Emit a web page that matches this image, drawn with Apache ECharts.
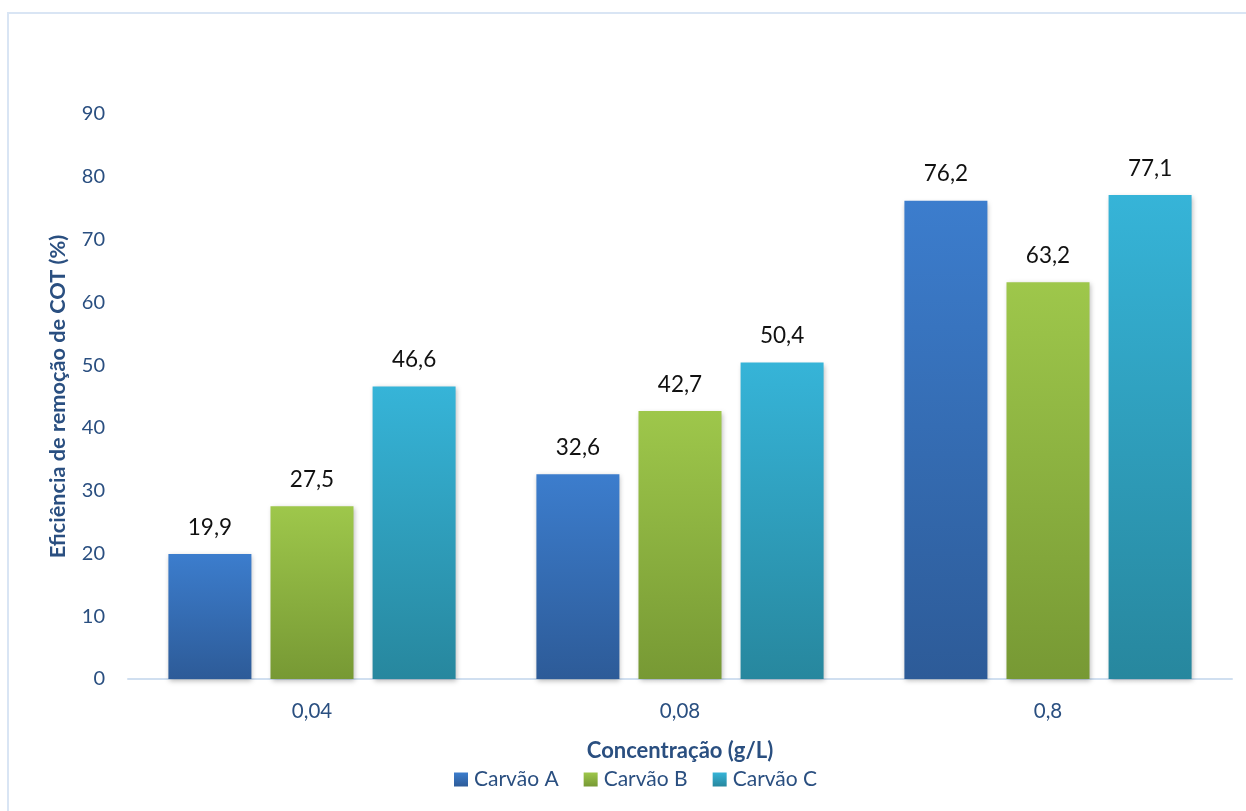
<!DOCTYPE html>
<html>
<head>
<meta charset="utf-8">
<script src="https://cdn.jsdelivr.net/npm/echarts@6/dist/echarts.min.js"></script>
<style>
  html, body { margin: 0; padding: 0; background: #fff; }
  #chart { width: 1246px; height: 811px; }
</style>
</head>
<body>
<div id="chart"></div>
<script>
// Concentrations of activated carbon (x-axis categories)
const categories = ['0,04', '0,08', '0,8'];
// COT removal efficiency (%) per carbon type
const carvaoA = [19.9, 32.6, 76.2];
const carvaoB = [27.5, 42.7, 63.2];
const carvaoC = [46.6, 50.4, 77.1];
const seriesNames = ['Carvão A', 'Carvão B', 'Carvão C'];
const yTicks = { min: 0, max: 90, interval: 10 };

const FONT = 'Lato, "Open Sans", sans-serif';
const AXIS_TEXT = '#2a4f80';

function grad(top, bottom) {
  return new echarts.graphic.LinearGradient(0, 0, 0, 1, [
    { offset: 0, color: top },
    { offset: 1, color: bottom }
  ]);
}

function barSeries(name, data, top, bottom, legendColor) {
  return {
    name: name,
    type: 'bar',
    data: data,
    barWidth: 83,
    barGap: '23%',
    color: legendColor,
    itemStyle: {
      color: grad(top, bottom),
      shadowColor: 'rgba(0,0,0,0.28)',
      shadowBlur: 5,
      shadowOffsetX: 1,
      shadowOffsetY: 2
    },
    label: {
      show: true,
      position: 'top',
      distance: 15,
      fontFamily: FONT,
      fontSize: 22.5,
      color: '#111',
      formatter: p => p.value.toFixed(1).replace('.', ',')
    }
  };
}

const chart = echarts.init(document.getElementById('chart'), null, { renderer: 'canvas' });
chart.setOption({
  animation: false,
  backgroundColor: '#fff',
  graphic: [{
    type: 'rect',
    shape: { x: 8, y: 13, width: 1300, height: 900 },
    style: { fill: 'none', stroke: '#d9e5f4', lineWidth: 2 },
    silent: true,
    z: -1
  }],
  grid: { left: 128, right: 14, top: 114, bottom: 132, containLabel: false },
  legend: {
    bottom: 16,
    left: 449,
    itemWidth: 14,
    itemHeight: 14,
    itemGap: 25,
    icon: 'rect',
    textStyle: { fontFamily: FONT, fontSize: 21, color: AXIS_TEXT, padding: [0, 0, 0, 1] },
    data: seriesNames
  },
  xAxis: {
    type: 'category',
    data: categories,
    name: 'Concentração (g/L)',
    nameLocation: 'middle',
    nameGap: 61,
    nameTextStyle: { fontFamily: FONT, fontSize: 22, fontWeight: 'bold', color: AXIS_TEXT },
    axisLine: { lineStyle: { color: '#d0dff0', width: 2 } },
    axisTick: { show: false },
    axisLabel: { fontFamily: FONT, fontSize: 20.5, color: AXIS_TEXT, margin: 22 }
  },
  yAxis: {
    type: 'value',
    min: yTicks.min,
    max: yTicks.max,
    interval: yTicks.interval,
    name: 'Eficiência de remoção de COT (%)',
    nameLocation: 'middle',
    nameGap: 59,
    nameRotate: 90,
    nameTextStyle: { fontFamily: FONT, fontSize: 21.7, fontWeight: 'bold', color: AXIS_TEXT },
    axisLine: { show: false },
    axisTick: { show: false },
    splitLine: { show: false },
    axisLabel: { fontFamily: FONT, fontSize: 20, color: AXIS_TEXT, margin: 23 }
  },
  series: [
    barSeries(seriesNames[0], carvaoA, '#3c7dcd', '#2d5b98', '#2f66ae'),
    barSeries(seriesNames[1], carvaoB, '#9ec74b', '#779934', '#86ad3e'),
    barSeries(seriesNames[2], carvaoC, '#36b4d8', '#27879e', '#2c9dbb')
  ]
});
</script>
</body>
</html>
